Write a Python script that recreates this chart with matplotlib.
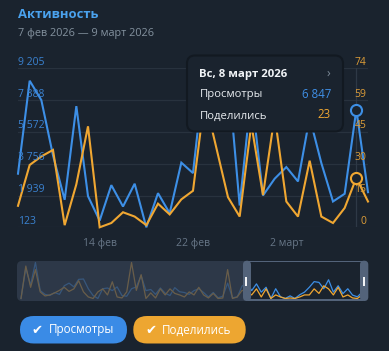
import numpy as np
import matplotlib
matplotlib.use("Agg")
import matplotlib.pyplot as plt
from matplotlib.patches import FancyBboxPatch, Rectangle
from matplotlib.transforms import blended_transform_factory, offset_copy

plt.rcParams['font.family'] = ['Open Sans', 'DejaVu Sans']

# data: 7 фев 2026 .. 9 март 2026
days = list(range(31))
views = [3185, 8495, 7388, 4234, 1694, 7044, 1900, 507, 2531, 1310,
         2612, 123, 2073, 926, 3816, 3219, 9205, 6500, 9000, 1367,
         7800, 1941, 2900, 3563, 2743, 6400, 3793, 1597, 2038, 6847, 2130]
shares = [10, 29, 33, 36, 1, 20, 47, 0, 2, 7,
          5, 1, 11, 6, 13, 17, 60, 37, 14, 5,
          48, 15, 52, 12, 5, 31, 5, 2, 9, 23, 12]

views_ticks = [123, 1939, 3756, 5572, 7388, 9205]
shares_ticks = ["0", "15", "30", "45", "59", "74"]
x_ticks = [7, 15, 23]
x_labels = ["14 фев", "22 фев", "2 март"]
sel = 29
sel_label = "Вс, 8 март 2026"

# minimap (whole period)
mini_views = [368, 7824, 3682, 9205, 2301, 1381, 1105, 1841, 1381, 3498,
              4142, 3222, 5063, 5155, 2762, 1105, 368, 2762, 2946, 2301,
              3222, 1105, 921, 2762, 3222, 5983, 2301, 2577, 1381, 2946,
              1657, 1105, 3038, 2025, 1841, 1381, 2301,
              2762, 1841, 736, 1841, 552, 921, 4142, 552, 736, 3406,
              4326, 2301, 3958, 1933, 3130, 368, 2762, 782, 368, 1013,
              368, 1289, 1933, 3130, 4510, 4326, 2762, 4971, 1933, 3498,
              1565, 2762, 1197, 782, 1933, 3958]
mini_shares = [3, 67, 25, 60, 16, 8, 10, 14, 19, 25,
               17, 22, 38, 16, 6, 3, 16, 22, 10, 36,
               6, 4, 16, 74, 19, 50, 3, 14, 4, 22,
               10, 22, 13, 10, 6, 16, 10,
               25, 10, 4, 13, 3, 4, 60, 3, 6, 19,
               16, 10, 22, 6, 22, 3, 10, 6, 3, 4,
               3, 6, 10, 10, 22, 13, 28, 22, 10, 25,
               6, 10, 4, 3, 10, 22]

bg = '#1a232e'
blue = '#3d8fe6'
orange = '#f0a732'
grid = '#28323e'

W, H = 389, 351
fig = plt.figure(figsize=(W / 100, H / 100), dpi=100, facecolor=bg)

def fpos(x0, y0, x1, y1):
    return [x0 / W, 1 - y1 / H, (x1 - x0) / W, (y1 - y0) / H]

# main chart
ax = fig.add_axes(fpos(18, 68.3, 368, 227.3))
ax.set_xlim(0, 30)
ax.set_ylim(views_ticks[0], views_ticks[-1])
ax.axis('off')
ax2 = ax.twinx()
ax2.set_ylim(0, 74)
ax2.axis('off')

for v in views_ticks:
    ax.axhline(v, color=grid, lw=0.9, zorder=0)
ax.axvline(sel, color='#2e3946', lw=0.9, zorder=0)

ax.plot(days, views, color=blue, lw=1.5, clip_on=False, solid_joinstyle='miter')
ax2.plot(days, shares, color=orange, lw=1.5, clip_on=False, solid_joinstyle='miter')
ax.plot([sel], [views[sel]], 'o', ms=8, mfc=bg, mec=blue, mew=1.5, clip_on=False, zorder=5)
ax2.plot([sel], [shares[sel]], 'o', ms=8, mfc=bg, mec=orange, mew=1.5, clip_on=False, zorder=5)

tl = offset_copy(blended_transform_factory(ax.transAxes, ax.transData), fig=fig, x=0, y=3.5, units='dots')
tr = offset_copy(blended_transform_factory(ax.transAxes, ax.transData), fig=fig, x=-1.5, y=3.5, units='dots')
for v, s in zip(views_ticks, shares_ticks):
    ax2.text(0, v, f"{v:,}".replace(",", " "), transform=tl, color='#3b83d2',
             fontsize=7.5, ha='left', va='baseline', zorder=6)
    ax2.text(1, v, s, transform=tr, color='#dd9d38', fontsize=7.5,
             ha='right', va='baseline', zorder=6)

tx = offset_copy(blended_transform_factory(ax.transData, ax.transAxes), fig=fig, x=0, y=-18.5, units='dots')
for d, s in zip(x_ticks, x_labels):
    ax.text(d, 0, s, transform=tx, color='#677687', fontsize=7.5, ha='center', va='baseline')

# minimap
axm = fig.add_axes(fpos(21, 262.5, 367, 300))
axm.set_xlim(0, len(mini_views) - 1)
axm.set_ylim(0, max(mini_views))
axm.axis('off')
axm2 = axm.twinx()
axm2.set_ylim(0, max(mini_shares))
axm2.axis('off')
axm.plot(range(len(mini_views)), mini_views, color=blue, lw=0.9, clip_on=False)
axm2.plot(range(len(mini_shares)), mini_shares, color=orange, lw=0.9, clip_on=False)

# overlay in pixel coordinates
ov = fig.add_axes([0, 0, 1, 1], zorder=10)
ov.set_xlim(0, W)
ov.set_ylim(H, 0)
ov.axis('off')
ov.patch.set_alpha(0)

ov.text(18, 18.5, "Активность", color='#4aa2ee', fontsize=9.4, fontweight='bold', va='baseline')
ov.text(18.5, 36.3, "7 фев 2026 — 9 март 2026", color='#84929f', fontsize=7.8, va='baseline')

# tooltip
ov.add_patch(FancyBboxPatch((187, 55.5), 156, 76, boxstyle="round,pad=0,rounding_size=8",
                            fc=bg, ec='#121921', lw=1.5))
ov.text(199.5, 76.5, sel_label, color='#f1f4f7', fontsize=8.2, fontweight='bold', va='baseline')
ov.text(330, 76.5, "›", color='#7d8a98', fontsize=9, ha='right', va='baseline')
ov.text(199.5, 97.5, "Просмотры", color='#e6eaee', fontsize=8.1, va='baseline')
ov.text(331, 97.5, f"{views[sel]:,}".replace(",", " "), color='#3f8fe6', fontsize=8.3, ha='right', va='baseline')
ov.text(199.5, 118.5, "Поделились", color='#e6eaee', fontsize=8.1, va='baseline')
ov.text(331, 118.5, str(shares[sel]), color=orange, fontsize=8.3, ha='right', va='baseline')

# minimap shading and window
ov.add_patch(FancyBboxPatch((17, 261), 233, 40, boxstyle="round,pad=0,rounding_size=5",
                            fc='#354153', ec='none', alpha=0.72))
frame = '#53637a'
ov.add_patch(FancyBboxPatch((243, 260.7), 8, 40.3, boxstyle="round,pad=0,rounding_size=4", fc=frame, ec='none'))
ov.add_patch(FancyBboxPatch((360, 260.7), 8.3, 40.3, boxstyle="round,pad=0,rounding_size=4", fc=frame, ec='none'))
ov.add_patch(Rectangle((248, 260.7), 115, 1.6, fc=frame, ec='none'))
ov.add_patch(Rectangle((248, 299.4), 115, 1.6, fc=frame, ec='none'))
ov.add_patch(Rectangle((245.5, 277), 2, 9, fc='#f2f4f6', ec='none'))
ov.add_patch(Rectangle((363.5, 277), 2, 9, fc='#f2f4f6', ec='none'))

# legend buttons
ov.add_patch(FancyBboxPatch((20, 316), 107, 27.5, boxstyle="round,pad=0,rounding_size=13.7", fc='#3a8be6', ec='none'))
ov.add_patch(FancyBboxPatch((133.3, 316), 112.4, 27.5, boxstyle="round,pad=0,rounding_size=13.7", fc='#eda631', ec='none'))
ov.text(37, 330.5, "✔", color='white', fontsize=9.5, ha='center', va='center', family='DejaVu Sans')
ov.text(49, 333.5, "Просмотры", color='white', fontsize=8.4, va='baseline')
ov.text(151.5, 330.5, "✔", color='white', fontsize=9.5, ha='center', va='center', family='DejaVu Sans')
ov.text(161.5, 333.5, "Поделились", color='white', fontsize=8.4, va='baseline')

fig.savefig("out.png", dpi=100, facecolor=bg)
